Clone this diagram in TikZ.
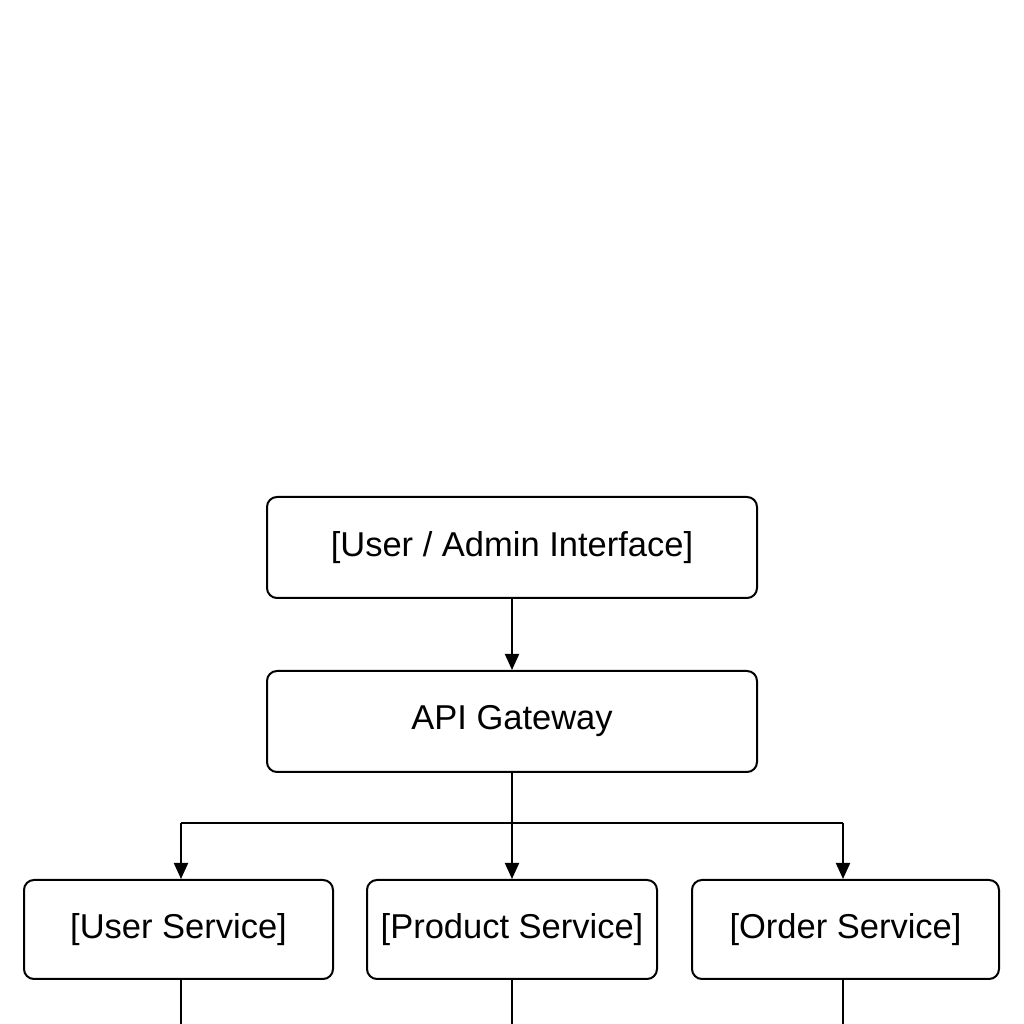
\documentclass[tikz,border=0pt]{standalone}
\usepackage{fontspec}
\setmainfont{Liberation Sans}
\usetikzlibrary{arrows.meta}
\begin{document}
\begin{tikzpicture}[x=1pt,y=1pt,
  box/.style={draw=black, line width=2pt, rounded corners=10pt, fill=white,
    inner sep=0pt, font=\fontsize{34.5}{40}\selectfont, text=black},
  conn/.style={draw=black, line width=2pt},
  arr/.style={conn, -{Triangle[length=16pt,width=14pt]}}]
\useasboundingbox (0,0) rectangle (1024,1024);
\fill[white] (0,0) rectangle (1024,1024);
\node[box, minimum width=490pt, minimum height=101pt] (ui) at (512,476.5) {[User / Admin Interface]};
\node[box, minimum width=490pt, minimum height=101pt] (gw) at (512,302.5) {API Gateway};
\node[box, minimum width=309pt, minimum height=99pt] (us) at (178.5,94.5) {[User Service]};
\node[box, minimum width=290pt, minimum height=99pt] (ps) at (512,94.5) {[Product Service]};
\node[box, minimum width=307pt, minimum height=99pt] (os) at (845.5,94.5) {[Order Service]};
\coordinate (j) at (512,201);
\coordinate (jl) at (181,201);
\coordinate (jr) at (843,201);
\coordinate (ub) at (181,-2);
\coordinate (pb) at (512,-2);
\coordinate (ob) at (843,-2);
\draw[arr] (ui.south) -- (gw.north);
\draw[conn] (gw.south) -- (j);
\draw[conn] (jl) -- (jr);
\draw[arr] (jl) -- (jl |- us.north);
\draw[arr] (j) -- (ps.north);
\draw[arr] (jr) -- (jr |- os.north);
\draw[conn] (us.south -| ub) -- (ub);
\draw[conn] (ps.south) -- (pb);
\draw[conn] (os.south -| ob) -- (ob);
\end{tikzpicture}
\end{document}
